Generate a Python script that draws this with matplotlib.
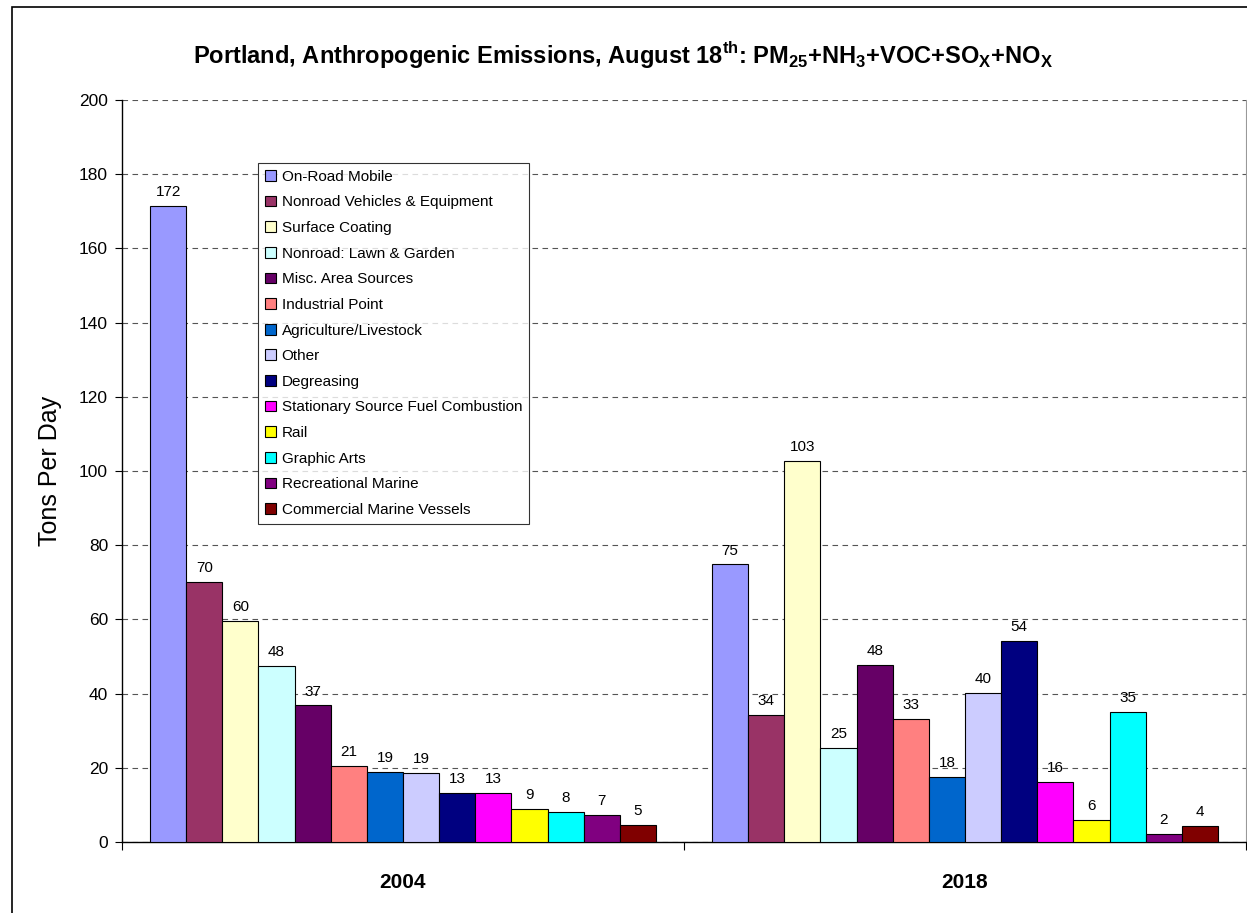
import matplotlib
matplotlib.use("Agg")
import matplotlib.pyplot as plt
import numpy as np
from matplotlib.patches import Rectangle

plt.rcParams['font.family'] = ['Liberation Sans', 'DejaVu Sans']
plt.rcParams['mathtext.fontset'] = 'custom'
plt.rcParams['mathtext.rm'] = 'Liberation Sans'
plt.rcParams['mathtext.bf'] = 'Liberation Sans:bold'

years = ["2004", "2018"]
sources = ["On-Road Mobile", "Nonroad Vehicles & Equipment", "Surface Coating",
           "Nonroad: Lawn & Garden", "Misc. Area Sources", "Industrial Point",
           "Agriculture/Livestock", "Other", "Degreasing",
           "Stationary Source Fuel Combustion", "Rail", "Graphic Arts",
           "Recreational Marine", "Commercial Marine Vessels"]
values_2004 = [171.5, 70.0, 59.7, 47.5, 36.8, 20.6, 18.8, 18.6, 13.2, 13.2, 8.9, 8.1, 7.3, 4.6]
values_2018 = [74.8, 34.2, 102.6, 25.4, 47.7, 33.1, 17.5, 40.1, 54.3, 16.3, 5.9, 35.0, 2.1, 4.4]
colors = ["#9999FF", "#993366", "#FFFFCC", "#CCFFFF", "#660066", "#FF8080",
          "#0066CC", "#CCCCFF", "#000080", "#FF00FF", "#FFFF00", "#00FFFF",
          "#800080", "#800000"]

W, H = 1247, 913
fig = plt.figure(figsize=(W / 100, H / 100), dpi=100)
ax = fig.add_axes([122 / W, 1 - 842 / H, (1246 - 122) / W, (842 - 100) / H])

n = len(sources)
bw = 0.9 / n
centers = np.array([0.5, 1.5])
for i, (src, col) in enumerate(zip(sources, colors)):
    vals = [values_2004[i], values_2018[i]]
    x = centers - 0.45 + bw * (i + 0.5)
    bars = ax.bar(x, vals, width=bw, color=col, edgecolor='black', linewidth=0.8,
                  label=src, zorder=3)
    ax.bar_label(bars, labels=[f"{v:.0f}" for v in vals], padding=5, fontsize=11, zorder=4)

ax.set_xlim(0, 2)
ax.set_ylim(0, 200)
ax.set_yticks(np.arange(0, 201, 20))
ax.set_xticks([0, 1, 2])
ax.set_xticklabels([])
ax.set_xticks(centers, minor=True)
ax.set_xticklabels(years, minor=True, fontsize=15, fontweight='bold')
ax.tick_params(axis='x', which='minor', length=0, pad=22)
ax.tick_params(axis='x', which='major', length=6, direction='out', width=0.8)
ax.tick_params(axis='y', length=5, direction='out', labelsize=12.5, width=0.8, pad=5)
ax.yaxis.grid(True, linestyle=(0, (5, 4)), color='#555555', linewidth=0.8, zorder=0)
ax.spines['top'].set_visible(False)
ax.spines['right'].set_color('#999999')
ax.spines['left'].set_linewidth(1.0)
ax.spines['bottom'].set_linewidth(1.0)
ax.set_ylabel("Tons Per Day", fontsize=18, labelpad=12)

leg = ax.legend(loc='upper left', bbox_to_anchor=((258 - 122) / (1246 - 122), (842 - 163) / (842 - 100)),
                fontsize=11, frameon=True, fancybox=False, edgecolor='black',
                handlelength=0.7, handleheight=0.7, handletextpad=0.4,
                labelspacing=0.76, borderpad=0.45, borderaxespad=0)
leg.get_frame().set_linewidth(0.8)

fig.text(0.5 * (146 + 1100) / W, 1 - 55 / H,
         r"Portland, Anthropogenic Emissions, August 18$^{\mathbf{th}}$: "
         r"PM$_{\mathbf{25}}$+NH$_{\mathbf{3}}$+VOC+SO$_{\mathbf{X}}$+NO$_{\mathbf{X}}$",
         ha='center', va='center', fontsize=17, fontweight='bold')

fig.add_artist(Rectangle((11.5 / W, -0.05), 1.2, 1 - 7 / H + 0.05, transform=fig.transFigure,
                         fill=False, edgecolor='black', linewidth=1.2))

fig.savefig("out.png", dpi=100)
